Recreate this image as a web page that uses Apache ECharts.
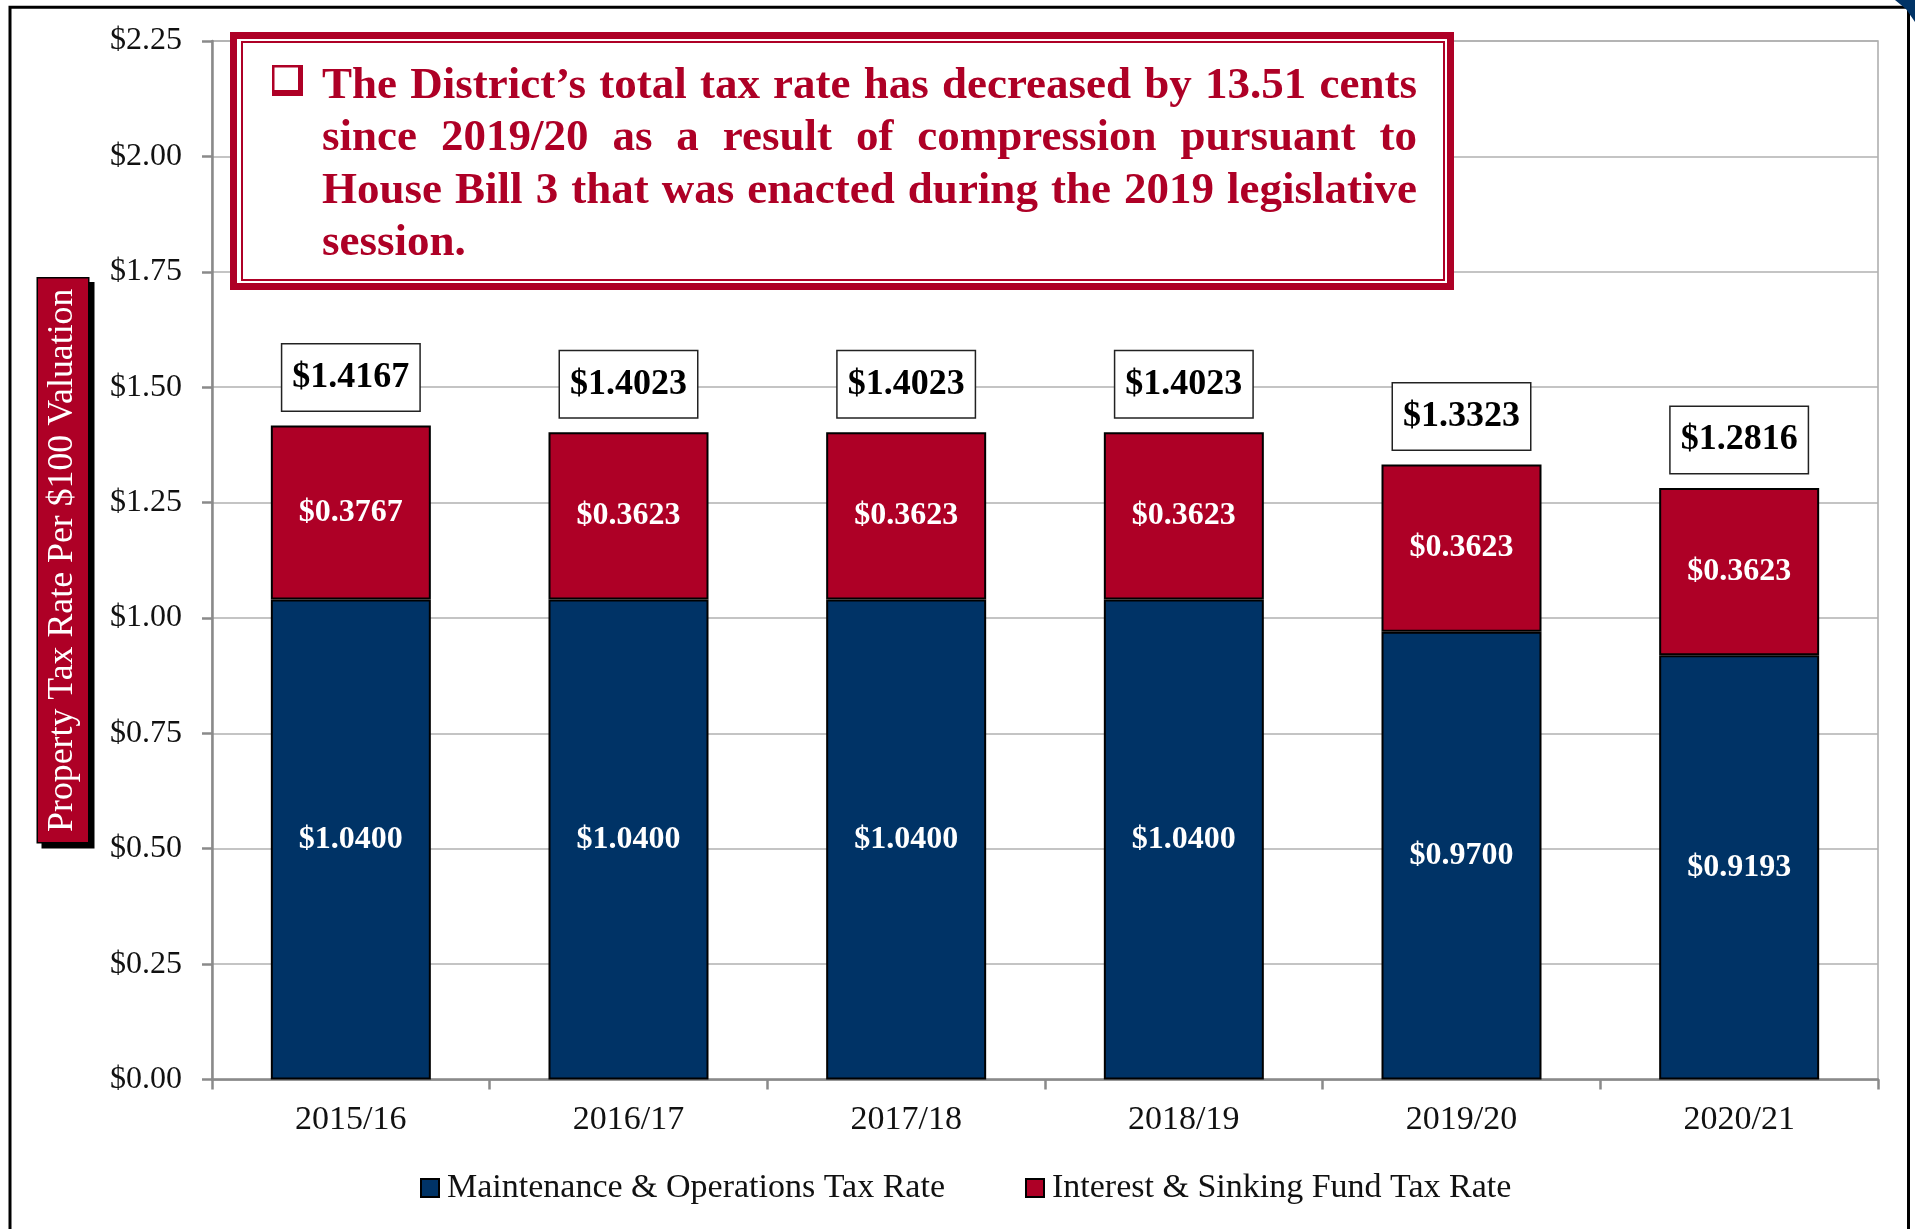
<!DOCTYPE html>
<html>
<head>
<meta charset="utf-8">
<script src="https://cdn.jsdelivr.net/npm/echarts@6/dist/echarts.min.js"></script>
<style>
html, body { margin: 0; padding: 0; background: #fff; }
#chart { width: 1915px; height: 1229px; }
</style>
</head>
<body>
<div id="chart"></div>
<script>
var categories = ['2015/16', '2016/17', '2017/18', '2018/19', '2019/20', '2020/21'];
var moRate = [1.0400, 1.0400, 1.0400, 1.0400, 0.9700, 0.9193];
var isRate = [0.3767, 0.3623, 0.3623, 0.3623, 0.3623, 0.3623];
var seriesNames = ['Maintenance & Operations Tax Rate', 'Interest & Sinking Fund Tax Rate'];
var yAxisName = 'Property Tax Rate Per $100 Valuation';
var noteLines = [
    'The District\u2019s total tax rate has decreased by 13.51 cents',
    'since 2019/20 as a result of compression pursuant to',
    'House Bill 3 that was enacted during the 2019 legislative',
    'session.'
];

var totals = moRate.map(function (v, i) { return +(v + isRate[i]).toFixed(4); });

var FONT = "'Liberation Serif', 'Times New Roman', serif";
var RED = '#AE0026';
var NAVY = '#003366';

// annotation text, justified by measuring each word
var noteSize = 45;
var ctx = document.createElement('canvas').getContext('2d');
ctx.font = 'bold ' + noteSize + 'px ' + FONT;
var noteLeft = 322, noteRight = 1417;
var baselines = [100, 152.5, 205.5, 257.5];
var noteEls = [];
noteLines.forEach(function (line, li) {
    var words = line.split(' ');
    var widths = words.map(function (w) { return ctx.measureText(w).width; });
    var sum = widths.reduce(function (a, b) { return a + b; }, 0);
    var gap = li < noteLines.length - 1
        ? (noteRight - noteLeft - sum) / (words.length - 1)
        : ctx.measureText(' ').width;
    var x = noteLeft;
    words.forEach(function (w, wi) {
        noteEls.push({
            type: 'text', x: x, y: baselines[li] - 0.305 * noteSize, z: 102,
            style: { text: w, fill: RED, font: 'bold ' + noteSize + 'px ' + FONT, align: 'left', verticalAlign: 'middle' }
        });
        x += widths[wi] + gap;
    });
});

var myChart = echarts.init(document.getElementById('chart'));
var option = {
    backgroundColor: '#fff',
    animation: false,
    grid: {
        left: 212, right: 37, top: 41, bottom: 149.5,
        show: true, borderColor: '#aaa', borderWidth: 1.5
    },
    legend: {
        data: seriesNames,
        left: 415, top: 1166,
        icon: 'rect', itemWidth: 18, itemHeight: 18, itemGap: 80,
        textStyle: { fontFamily: FONT, fontSize: 34, color: '#111', padding: [0, 0, 0, 3] }
    },
    xAxis: {
        type: 'category',
        data: categories,
        axisLine: { lineStyle: { color: '#8a8a8a', width: 2.5 } },
        axisTick: { show: true, length: 10, lineStyle: { color: '#8a8a8a', width: 2.5 } },
        axisLabel: { fontFamily: FONT, fontSize: 34, color: '#111', margin: 24 }
    },
    yAxis: {
        type: 'value',
        min: 0, max: 2.25, interval: 0.25,
        name: yAxisName,
        nameLocation: 'middle',
        nameRotate: 90,
        nameGap: 124,
        nameTextStyle: {
            fontFamily: FONT, fontSize: 35.8, color: '#fff',
            backgroundColor: RED, borderColor: '#000', borderWidth: 1.5,
            padding: [4, 10, 4, 10], lineHeight: 42,
            shadowColor: '#000', shadowOffsetX: 5, shadowOffsetY: 5, shadowBlur: 0
        },
        axisLine: { show: true, lineStyle: { color: '#8a8a8a', width: 2.5 } },
        axisTick: { show: true, length: 10, lineStyle: { color: '#8a8a8a', width: 2.5 } },
        axisLabel: {
            fontFamily: FONT, fontSize: 32, color: '#111', margin: 30,
            formatter: function (v) { return '$' + v.toFixed(2); }
        },
        splitLine: { lineStyle: { color: '#b0b0b0', width: 1.5 } }
    },
    series: [
        {
            name: seriesNames[0],
            type: 'bar',
            stack: 'rate',
            barWidth: 160,
            data: moRate,
            itemStyle: { color: NAVY, borderColor: '#000', borderWidth: 2 },
            label: {
                show: true, position: 'inside', color: '#fff',
                fontFamily: FONT, fontSize: 32, fontWeight: 'bold',
                formatter: function (p) { return '$' + p.value.toFixed(4); }
            }
        },
        {
            name: seriesNames[1],
            type: 'bar',
            stack: 'rate',
            barWidth: 160,
            data: isRate,
            itemStyle: { color: RED, borderColor: '#000', borderWidth: 2 },
            label: {
                show: true, position: 'inside', color: '#fff',
                fontFamily: FONT, fontSize: 32, fontWeight: 'bold',
                formatter: function (p) { return '$' + p.value.toFixed(4); }
            }
        },
        {
            name: 'Total',
            type: 'scatter',
            data: totals,
            symbolSize: 0,
            z: 5,
            itemStyle: { opacity: 1 },
            label: {
                show: true, position: 'top', distance: 15,
                color: '#000', fontFamily: FONT, fontSize: 36, fontWeight: 'bold',
                backgroundColor: '#fff', borderColor: '#222', borderWidth: 1.5,
                padding: [13, 10, 13, 10], lineHeight: 40,
                formatter: function (p) { return '$' + p.value.toFixed(4); }
            }
        }
    ],
    graphic: [
        {
            type: 'rect', z: 100,
            shape: { x: 10, y: 7.3, width: 1898.5, height: 1300 },
            style: { fill: 'none', stroke: '#000', lineWidth: 3 }
        },
        {
            type: 'polygon', z: 100,
            shape: { points: [[1895, 0], [1915, 0], [1915, 22], [1906, 9]] },
            style: { fill: NAVY }
        },
        {
            type: 'rect', z: 100,
            shape: { x: 233.5, y: 35.5, width: 1217, height: 251 },
            style: { fill: '#fff', stroke: RED, lineWidth: 7 }
        },
        {
            type: 'rect', z: 101,
            shape: { x: 242, y: 42, width: 1202, height: 238 },
            style: { fill: 'none', stroke: RED, lineWidth: 2 }
        },
        {
            type: 'rect', z: 101,
            shape: { x: 272, y: 65, width: 31, height: 31 },
            style: { fill: RED }
        },
        {
            type: 'rect', z: 102,
            shape: { x: 274.5, y: 67.5, width: 23.5, height: 22.5 },
            style: { fill: '#fff' }
        }
    ].concat(noteEls)
};
myChart.setOption(option);
</script>
</body>
</html>
